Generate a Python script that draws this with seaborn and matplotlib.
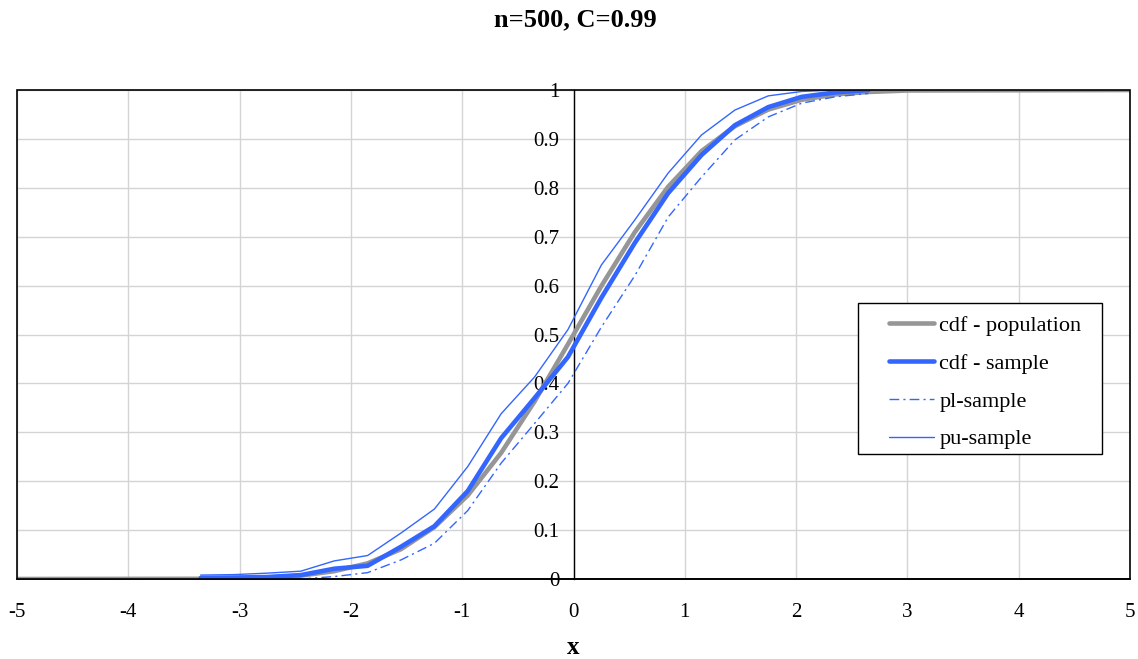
import numpy as np
import pandas as pd
import matplotlib
matplotlib.use("Agg")
import matplotlib.pyplot as plt
import seaborn as sns
from matplotlib.patches import Rectangle

# ---- data ----
x_pop = [-5, -3.35, -3.05, -2.75, -2.45, -2.15, -1.85, -1.55, -1.25, -0.95, -0.65, -0.35,
         -0.05, 0.25, 0.55, 0.85, 1.15, 1.45, 1.75, 2.05, 2.35, 2.65, 3.0, 5]
cdf_population = [0.0, 0.0004, 0.001, 0.003, 0.007, 0.016, 0.032, 0.061, 0.106, 0.171, 0.258, 0.363,
                  0.48, 0.599, 0.709, 0.802, 0.875, 0.926, 0.96, 0.98, 0.991, 0.996, 0.999, 1.0]

x_sample = [-3.35, -3.05, -2.75, -2.45, -2.15, -1.85, -1.55, -1.25, -0.95, -0.65, -0.35,
            -0.05, 0.25, 0.55, 0.85, 1.15, 1.45, 1.75, 2.05, 2.35, 2.65]
cdf_sample = [0.002, 0.003, 0.004, 0.008, 0.021, 0.027, 0.066, 0.108, 0.18, 0.288, 0.37,
              0.454, 0.575, 0.687, 0.789, 0.867, 0.928, 0.965, 0.986, 0.995, 1.0]
pl_sample = [0.0, 0.0, 0.0, 0.0, 0.005, 0.013, 0.039, 0.073, 0.14, 0.237, 0.318,
             0.40, 0.515, 0.62, 0.74, 0.822, 0.898, 0.945, 0.973, 0.986, 0.993]
pu_sample = [0.008, 0.009, 0.012, 0.016, 0.037, 0.048, 0.094, 0.143, 0.23, 0.338, 0.413,
             0.51, 0.642, 0.734, 0.83, 0.908, 0.959, 0.988, 0.997, 1.0, 1.0]

x_ticks = [-5, -4, -3, -2, -1, 0, 1, 2, 3, 4, 5]
y_ticks = [0, 0.1, 0.2, 0.3, 0.4, 0.5, 0.6, 0.7, 0.8, 0.9, 1]
y_tick_labels = ["0", "0.1", "0.2", "0.3", "0.4", "0.5", "0.6", "0.7", "0.8", "0.9", "1"]
title = "n=500, C=0.99"
x_label = "x"

# ---- style ----
sns.set_theme(style="white")
plt.rcParams["font.family"] = ["Liberation Serif", "DejaVu Serif"]
plt.rcParams["text.color"] = "black"
plt.rcParams["axes.labelcolor"] = "black"

W, H = 1138, 659
fig = plt.figure(figsize=(W / 100, H / 100), dpi=100)
L, R, T, B = 17, 1130, 90, 579
ax = fig.add_axes([L / W, 1 - B / H, (R - L) / W, (B - T) / H])

def ax_frac(px, py):
    return ((px - L) / (R - L), (B - py) / (B - T))

grey = "#969696"
blue = "#3366FF"

df_pop = pd.DataFrame({"x": x_pop, "y": cdf_population})
df_s = pd.DataFrame({"x": x_sample, "cdf": cdf_sample, "pl": pl_sample, "pu": pu_sample})

sns.lineplot(data=df_pop, x="x", y="y", ax=ax, color=grey, linewidth=3.3,
             label="cdf - population", sort=False, zorder=3)
sns.lineplot(data=df_s, x="x", y="cdf", ax=ax, color=blue, linewidth=3.3,
             label="cdf - sample", sort=False, zorder=4)
sns.lineplot(data=df_s, x="x", y="pl", ax=ax, color=blue, linewidth=1.0,
             linestyle=(0, (7, 3, 1.5, 3)), label="pl-sample", sort=False, zorder=4)
sns.lineplot(data=df_s, x="x", y="pu", ax=ax, color=blue, linewidth=1.0,
             label="pu-sample", sort=False, zorder=4)

ax.set_xlim(-5, 5)
ax.set_ylim(0, 1)
ax.set_xticks(x_ticks)
ax.set_xticklabels([str(t) for t in x_ticks])
ax.set_yticks(y_ticks)
ax.set_yticklabels(y_tick_labels)

ax.grid(True, color="#d4d4d4", linewidth=1.0)
ax.set_axisbelow(True)

# axes: y-axis crosses at x=0
for s in ["top", "right"]:
    ax.spines[s].set_visible(False)
ax.spines["left"].set_position(("data", 0))
ax.spines["left"].set_color("black")
ax.spines["left"].set_linewidth(1.0)
ax.spines["left"].set_zorder(2)
ax.spines["bottom"].set_color("black")
ax.spines["bottom"].set_linewidth(1.2)
ax.add_patch(Rectangle((0, 0), 1, 1, transform=ax.transAxes, fill=False,
                       edgecolor="black", linewidth=1.2, clip_on=False, zorder=5))

ax.tick_params(axis="both", which="both", direction="out", length=6, width=1,
               color="black", labelsize=15, labelcolor="black")
ax.tick_params(axis="x", pad=11)
ax.tick_params(axis="y", pad=4)

ax.set_xlabel(x_label, fontsize=18, fontweight="bold", labelpad=10, color="black")
ax.set_ylabel("")
fig.suptitle(title, fontsize=19, fontweight="bold", x=575 / W, y=1 - 8 / H, va="top",
             color="black")

# legend box (frame drawn separately to get Excel-like padding)
fx0, fy1 = ax_frac(858, 454)
fx1, fy0 = ax_frac(1102, 303)
ax.add_patch(Rectangle((fx0, fy1), fx1 - fx0, fy0 - fy1, transform=ax.transAxes,
                       facecolor="white", edgecolor="black", linewidth=1.0,
                       clip_on=False, zorder=9))
leg = ax.legend(loc="upper left", bbox_to_anchor=ax_frac(877, 303),
                borderaxespad=0, frameon=False, fontsize=16,
                handlelength=2.0, borderpad=0.55, labelspacing=0.78, handletextpad=0.25)
leg.set_zorder(10)
for t in leg.get_texts():
    t.set_color("black")

fig.savefig("out.png", dpi=100)
